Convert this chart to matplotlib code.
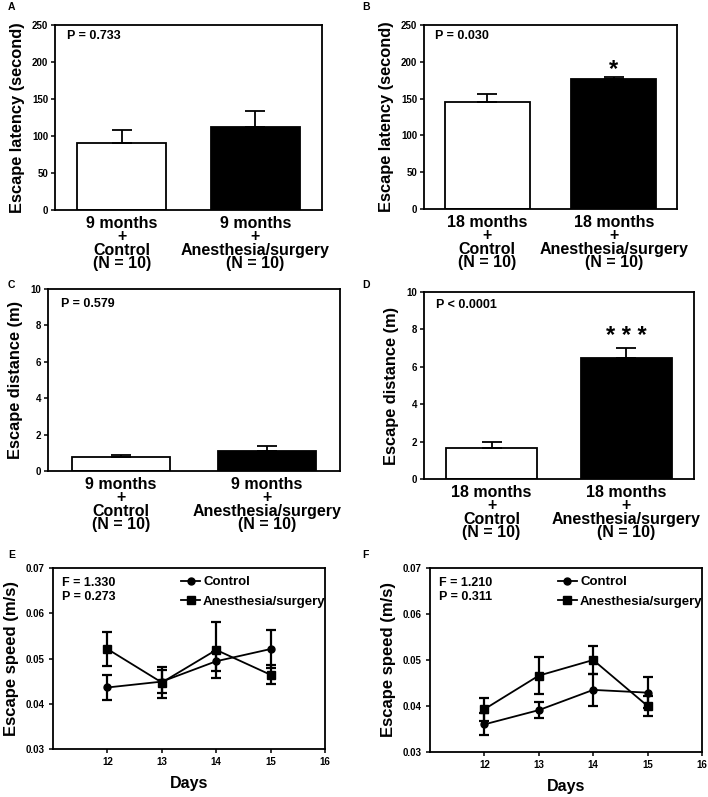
import matplotlib
matplotlib.use("Agg")
import matplotlib.pyplot as plt
from matplotlib.lines import Line2D
import numpy as np

plt.rcParams['font.family'] = ['Liberation Sans', 'DejaVu Sans']
plt.rcParams['font.weight'] = 'bold'
plt.rcParams['axes.labelweight'] = 'bold'
plt.rcParams['axes.linewidth'] = 1.3

# bar panels (A-D): mean and upper error
groups_9 = ["9 months\n+\nControl\n(N = 10)", "9 months\n+\nAnesthesia/surgery\n(N = 10)"]
groups_18 = ["18 months\n+\nControl\n(N = 10)", "18 months\n+\nAnesthesia/surgery\n(N = 10)"]

latency_9 = [90, 112]
latency_9_err = [18, 22]
latency_18 = [145, 177]
latency_18_err = [11, 2]

distance_9 = [0.75, 1.1]
distance_9_err = [0.13, 0.27]
distance_18 = [1.68, 6.45]
distance_18_err = [0.32, 0.58]

# line panels (E, F)
days = [12, 13, 14, 15]
e_control = [0.0436, 0.0449, 0.0494, 0.0521]
e_control_err = [0.0027, 0.0025, 0.0021, 0.0041]
e_anes = [0.0521, 0.0447, 0.0519, 0.0464]
e_anes_err = [0.0038, 0.0034, 0.0061, 0.0021]

f_control = [0.0360, 0.0391, 0.0435, 0.0429]
f_control_err = [0.0024, 0.0017, 0.0034, 0.0033]
f_anes = [0.0393, 0.0466, 0.0500, 0.0400]
f_anes_err = [0.0025, 0.0041, 0.0031, 0.0022]

fig = plt.figure(figsize=(7.08, 7.97), dpi=100)


def bar_panel(rect, labels, vals, errs, ymax, step, ylabel, ptext, ptxt_y, star=None, star_y=None):
    ax = fig.add_axes(rect)
    x = np.arange(len(vals))
    ax.bar(x, vals, width=0.67, color=['white', 'black'], edgecolor='black', linewidth=1.3)
    ax.errorbar(x, vals, yerr=[[0] * len(errs), errs], fmt='none', ecolor='black',
                elinewidth=1.3, capsize=7, capthick=1.3)
    ax.set_xlim(-0.5, 1.5)
    ax.set_ylim(0, ymax)
    ax.set_yticks(np.arange(0, ymax + step / 2, step))
    ax.set_xticks(x)
    ax.set_xticklabels(labels, fontsize=11.5, linespacing=0.88)
    ax.tick_params(axis='x', length=0, pad=4)
    ax.tick_params(axis='y', labelsize=7, length=3, width=1.1, pad=2)
    ax.set_ylabel(ylabel, fontsize=11.8, labelpad=5)
    ax.text(0.045, ptxt_y, ptext, transform=ax.transAxes, fontsize=9, va='center')
    if star:
        ax.text(1, star_y, star, ha='center', va='center', fontsize=17, fontweight='bold')
    return ax


def line_panel(rect, ctrl, ctrl_err, anes, anes_err, ftext, ptext):
    ax = fig.add_axes(rect)
    ax.errorbar(days, ctrl, yerr=ctrl_err, color='black', marker='o', markersize=5,
                linewidth=1.3, capsize=3.5, capthick=1.6, elinewidth=1.6)
    ax.errorbar(days, anes, yerr=anes_err, color='black', marker='s', markersize=5.5,
                linewidth=1.3, capsize=3.5, capthick=1.6, elinewidth=1.6)
    ax.set_xlim(11, 16)
    ax.set_ylim(0.03, 0.07)
    ax.set_xticks([12, 13, 14, 15, 16])
    ax.set_yticks([0.03, 0.04, 0.05, 0.06, 0.07])
    ax.yaxis.set_major_formatter(matplotlib.ticker.FormatStrFormatter('%.2f'))
    ax.tick_params(labelsize=7, length=3, width=1.1, pad=3)
    ax.set_xlabel('Days', fontsize=11.5, labelpad=6)
    ax.set_ylabel('Escape speed (m/s)', fontsize=12, labelpad=5)
    ax.text(0.033, 0.92, ftext, transform=ax.transAxes, fontsize=9, va='center')
    ax.text(0.033, 0.84, ptext, transform=ax.transAxes, fontsize=9, va='center')
    handles = [Line2D([], [], color='black', marker='o', markersize=5, linewidth=1.3),
               Line2D([], [], color='black', marker='s', markersize=5.5, linewidth=1.3)]
    ax.legend(handles, ['Control', 'Anesthesia/surgery'], loc='upper left',
              bbox_to_anchor=(0.44, 1.0), frameon=False, fontsize=9.5,
              handlelength=1.5, handletextpad=0.2, labelspacing=0.55, borderaxespad=0.2)
    return ax


bar_panel([0.0777, 0.7365, 0.3771, 0.2321], groups_9, latency_9, latency_9_err, 250, 50,
          'Escape latency (second)', 'P = 0.733', 0.94)
bar_panel([0.5989, 0.7378, 0.3573, 0.2308], groups_18, latency_18, latency_18_err, 250, 50,
          'Escape latency (second)', 'P = 0.030', 0.94, star='*', star_y=190)
bar_panel([0.0678, 0.4090, 0.4124, 0.2284], groups_9, distance_9, distance_9_err, 10, 2,
          'Escape distance (m)', 'P = 0.579', 0.92)
bar_panel([0.5989, 0.3990, 0.3813, 0.2346], groups_18, distance_18, distance_18_err, 10, 2,
          'Escape distance (m)', 'P < 0.0001', 0.93, star='* * *', star_y=7.6)

line_panel([0.0749, 0.0602, 0.3842, 0.2271], e_control, e_control_err, e_anes, e_anes_err,
           'F = 1.330', 'P = 0.273')
line_panel([0.6073, 0.0565, 0.3842, 0.2308], f_control, f_control_err, f_anes, f_anes_err,
           'F = 1.210', 'P = 0.311')

for letter, (px, py) in zip('ABCDEF', [(8, 7), (362, 7), (8, 285), (362, 285), (8, 555), (362, 555)]):
    fig.text(px / 708, 1 - py / 797, letter, fontsize=7.5, va='center', ha='left')

fig.savefig('out.png', dpi=100)
